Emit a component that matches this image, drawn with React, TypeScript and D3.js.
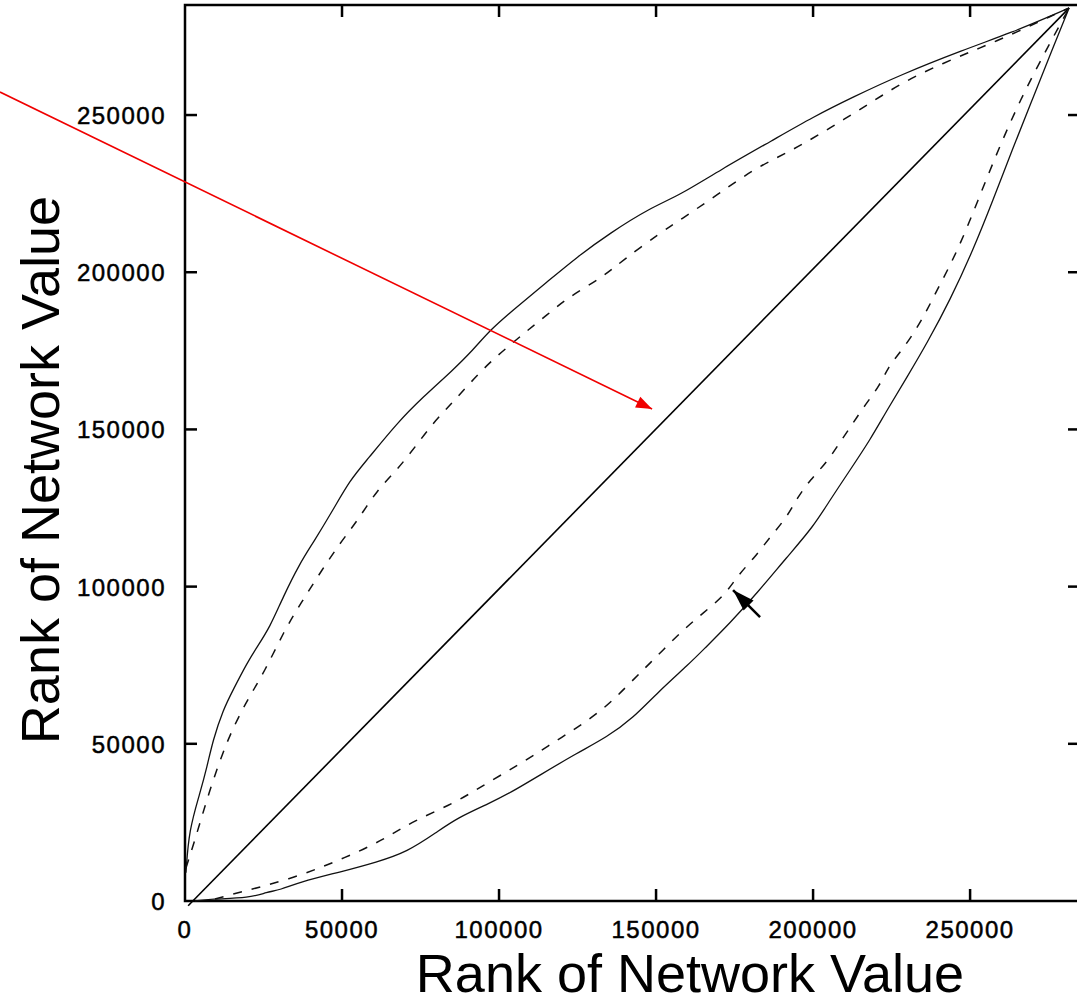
import React from "react";
import * as d3 from "d3";

// Rank of network value under two rankings: [x rank, y rank]
const upperSolid: [number, number][] = [
  [300, 9000], [1270, 22580], [4780, 34350], [7000, 42620], [8920, 51210],
  [12100, 60750], [15290, 67110], [19750, 75700], [22930, 80790], [27070, 87150],
  [31210, 96690], [36620, 107510], [40760, 113870], [47130, 124360], [52550, 133910],
  [57960, 140270], [67520, 152040], [75800, 160310], [85350, 168900], [91720, 175250],
  [97130, 181620], [104460, 187980], [115290, 196890], [124840, 204840], [135350, 212470],
  [148090, 220420], [157640, 224560], [170380, 232510], [187260, 242050], [200000, 249370],
  [212740, 255730], [227710, 262730], [247770, 270680], [263690, 276400], [276430, 281810],
  [281530, 284030],
];

const upperDashed: [number, number][] = [
  [300, 10500], [3180, 19400], [7640, 34670], [13380, 51210], [19430, 63300],
  [25480, 73160], [31530, 85880], [36940, 94790], [42990, 104330], [49360, 113870],
  [55100, 121190], [61150, 130730], [67520, 137090], [73250, 144400], [78980, 152040],
  [85030, 158400], [90760, 164760], [97130, 171450], [103500, 176850], [109230, 181620],
  [115290, 186390], [121660, 191800], [133120, 198480], [139490, 203880], [151270, 212470],
  [157640, 216610], [169420, 224560], [181530, 233140], [193630, 238870], [205410, 245870],
  [217200, 253190], [228660, 260500], [241400, 266540], [253180, 271310], [264960, 276400],
  [276430, 281810], [281530, 284030],
];

const lowerSolid: [number, number][] = [
  [3180, 0], [7960, 640], [20700, 950], [26110, 2860], [30250, 3500],
  [36620, 6040], [49360, 9220], [61150, 12400], [70700, 15590], [80250, 21950],
  [86620, 26400], [97130, 31170], [103500, 34350], [113060, 40080], [124840, 47070],
  [134400, 52160], [142680, 58210], [150320, 66160], [160830, 75700], [164970, 79840],
  [173570, 88420], [182170, 97960], [191720, 109420], [200000, 118960], [205410, 127550],
  [211780, 137090], [218150, 146630], [223570, 156180], [229940, 166670], [236310, 177480],
  [243630, 191160], [250960, 207060], [257320, 222970], [263380, 238870],
  [269750, 254770], [276110, 270680], [281530, 284030],
];

const lowerDashed: [number, number][] = [
  [9550, 640], [16560, 2540], [35030, 7320], [51590, 14000], [63060, 19400],
  [72610, 25450], [85990, 31170], [96180, 37530], [106690, 43580], [115610, 49300],
  [125160, 55340], [133760, 61390], [140450, 68070], [146500, 74110], [152230, 79840],
  [158600, 86200], [164970, 91600], [171970, 97330], [176110, 103690], [181530, 109420],
  [186310, 115780], [191720, 122140], [194910, 128180], [199040, 133910], [204460, 139630],
  [208600, 145990], [212740, 152040], [216560, 157760], [221340, 164120], [223890, 169850],
  [228340, 175250], [233120, 182250], [236310, 187980], [239490, 194340], [246180, 207060],
  [252550, 222970], [258920, 238870], [265920, 254770], [274200, 270680], [281530, 284030],
];

// Equal-rank reference line
const diagonal: [number, number][] = [[1000, -1500], [281500, 284000]];

const tickValues = [0, 50000, 100000, 150000, 200000, 250000];
const rankMax = 285000;

// Annotation arrows in data coordinates: [from, to]
const redArrow: [number, number][] = [[-58920, 257320], [148730, 156490]];
const blackArrow: [number, number][] = [[183120, 90330], [174520, 98920]];

const axisTitle = "Rank of Network Value";

const W = 1077;
const H = 1004;
const left = 185;
const right = 1080;
const top = 5;
const bottom = 901;

export default function App() {
  const x = d3.scaleLinear().domain([0, rankMax]).range([left, right]);
  const y = d3.scaleLinear().domain([0, rankMax]).range([bottom, top]);
  const curve = d3
    .line<[number, number]>()
    .x((d) => x(d[0]))
    .y((d) => y(d[1]))
    .curve(d3.curveBasis);
  const straight = d3
    .line<[number, number]>()
    .x((d) => x(d[0]))
    .y((d) => y(d[1]));

  const arrowHead = (pts: [number, number][], len: number, half: number) => {
    const [x0, y0] = [x(pts[0][0]), y(pts[0][1])];
    const [x1, y1] = [x(pts[1][0]), y(pts[1][1])];
    const a = Math.atan2(y1 - y0, x1 - x0);
    const bx = x1 - len * Math.cos(a);
    const by = y1 - len * Math.sin(a);
    const px = -Math.sin(a) * half;
    const py = Math.cos(a) * half;
    return `M${x1},${y1}L${bx + px},${by + py}L${bx - px},${by - py}Z`;
  };

  const tickFont = {
    fontFamily: "'Liberation Sans', Arial, sans-serif",
    fontSize: 24,
    letterSpacing: 1.5,
  };

  return (
    <svg
      width={W}
      height={H}
      style={{ position: "absolute", left: 0, top: 0, background: "#fff" }}
    >
      <rect x={0} y={0} width={W} height={H} fill="#fff" />

      {/* frame */}
      <rect
        x={left}
        y={top}
        width={right - left}
        height={bottom - top}
        fill="none"
        stroke="#000"
        strokeWidth={2.5}
      />

      {/* ticks on all four sides */}
      {tickValues.slice(1).map((t) => (
        <g key={"t" + t} stroke="#000" strokeWidth={2.5}>
          <line x1={x(t)} x2={x(t)} y1={bottom} y2={bottom - 12} />
          <line x1={x(t)} x2={x(t)} y1={top} y2={top + 12} />
          <line x1={left} x2={left + 12} y1={y(t)} y2={y(t)} />
          <line x1={right} x2={right - 12} y1={y(t)} y2={y(t)} />
        </g>
      ))}

      {/* tick labels */}
      {tickValues.map((t) => (
        <text
          key={"xl" + t}
          x={x(t)}
          y={938}
          textAnchor="middle"
          {...tickFont}
          stroke="#000"
          strokeWidth={0.5}
        >
          {t}
        </text>
      ))}
      {tickValues.map((t) => (
        <text
          key={"yl" + t}
          x={166}
          y={y(t) + 9}
          textAnchor="end"
          {...tickFont}
          stroke="#000"
          strokeWidth={0.5}
        >
          {t}
        </text>
      ))}

      {/* curves */}
      <path d={straight(diagonal) ?? ""} fill="none" stroke="#000" strokeWidth={1.6} />
      <path d={curve(upperSolid) ?? ""} fill="none" stroke="#111" strokeWidth={1.3} />
      <path d={curve(lowerSolid) ?? ""} fill="none" stroke="#111" strokeWidth={1.3} />
      <path
        d={curve(upperDashed) ?? ""}
        fill="none"
        stroke="#111"
        strokeWidth={1.5}
        strokeDasharray="9 10"
      />
      <path
        d={curve(lowerDashed) ?? ""}
        fill="none"
        stroke="#111"
        strokeWidth={1.5}
        strokeDasharray="9 10"
      />

      {/* annotation arrows */}
      <line
        x1={x(redArrow[0][0])}
        y1={y(redArrow[0][1])}
        x2={x(redArrow[1][0])}
        y2={y(redArrow[1][1])}
        stroke="#f00000"
        strokeWidth={1.6}
      />
      <path d={arrowHead(redArrow, 16, 6)} fill="#f00000" />
      <line
        x1={x(blackArrow[0][0])}
        y1={y(blackArrow[0][1])}
        x2={x(blackArrow[1][0])}
        y2={y(blackArrow[1][1])}
        stroke="#000"
        strokeWidth={2.5}
      />
      <path d={arrowHead(blackArrow, 22, 7)} fill="#000" />

      {/* axis titles */}
      <text
        x={690}
        y={992}
        textAnchor="middle"
        fontFamily="'Liberation Sans', Arial, sans-serif"
        fontSize={54}
      >
        {axisTitle}
      </text>
      <text
        transform={`translate(59,470) rotate(-90)`}
        textAnchor="middle"
        fontFamily="'Liberation Sans', Arial, sans-serif"
        fontSize={54}
      >
        {axisTitle}
      </text>
    </svg>
  );
}
